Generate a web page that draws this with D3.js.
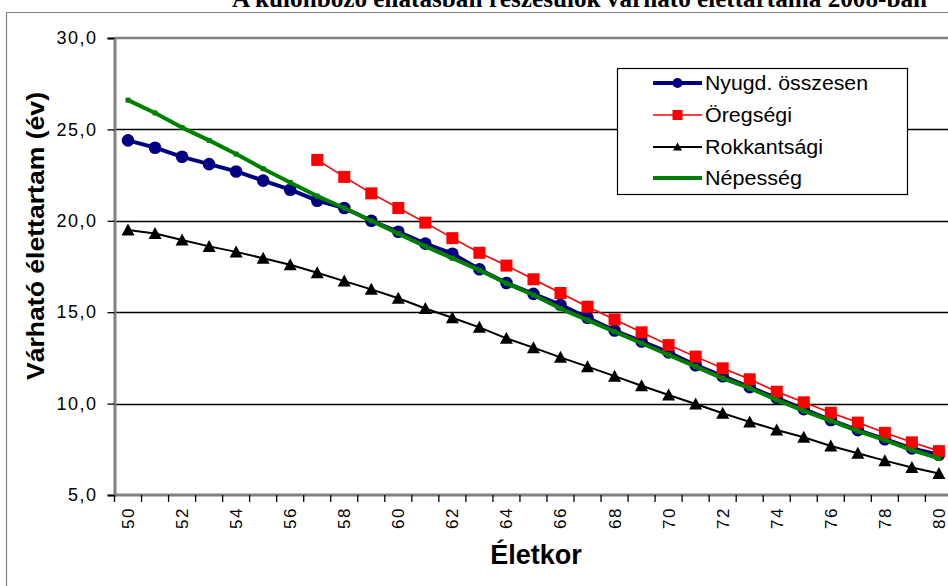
<!DOCTYPE html>
<html><head><meta charset="utf-8">
<script src="https://cdn.jsdelivr.net/npm/d3@7"></script>
<style>html,body{margin:0;padding:0;background:#fff;overflow:hidden}</style>
</head><body>
<svg id="c" width="948" height="586"></svg>
<script>
const ages = d3.range(50, 81);
const ageTickLabels = [50,52,54,56,58,60,62,64,66,68,70,72,74,76,78,80];
const yTicks = [5,10,15,20,25,30];
const seriesNames = ["Nyugd. összesen","Öregségi","Rokkantsági","Népesség"];
const nyugd = [24.4,24.0,23.5,23.1,22.7,22.2,21.7,21.1,20.7,20.0,19.4,18.75,18.2,17.35,16.6,16.0,15.4,14.7,14.0,13.4,12.8,12.1,11.5,10.9,10.3,9.7,9.1,8.55,8.05,7.55,7.2];
const oreg = [null,null,null,null,null,null,null,23.33,22.4,21.5,20.7,19.9,19.05,18.25,17.55,16.8,16.05,15.3,14.6,13.9,13.2,12.57,11.93,11.33,10.65,10.07,9.5,8.96,8.4,7.88,7.4];
const rokk = [19.5,19.3,18.95,18.6,18.3,17.95,17.6,17.16,16.7,16.25,15.76,15.2,14.7,14.17,13.57,13.06,12.53,12.02,11.5,10.98,10.47,9.98,9.47,9.0,8.56,8.16,7.68,7.28,6.88,6.5,6.18];
const nep = [26.6,25.9,25.1,24.4,23.65,22.85,22.1,21.35,20.7,20.0,19.3,18.6,17.95,17.3,16.58,15.94,15.2,14.57,13.93,13.3,12.66,12.02,11.38,10.84,10.2,9.6,9.05,8.5,8.0,7.46,7.0];

const svg = d3.select("#c");
const L = 114.5, T = 38, B = 495, band = 27.03;
const R = L + band * ages.length;
const x = d3.scaleBand().domain(ages).range([L, R]).paddingInner(0).paddingOuter(0);
const cx = a => x(a) + x.bandwidth() / 2;
const y = d3.scaleLinear().domain([5, 30]).range([B, T]);
const sans = "'Liberation Sans', Arial, sans-serif";

// outer chart border
svg.append("line").attr("x1", 6).attr("x2", 948).attr("y1", 12.5).attr("y2", 12.5).attr("stroke", "#808080").attr("stroke-width", 1.2);
svg.append("line").attr("x1", 6.5).attr("x2", 6.5).attr("y1", 12).attr("y2", 586).attr("stroke", "#808080").attr("stroke-width", 1.2);

// title (clipped at the top edge, as in the reference)
svg.append("text").attr("x", 232).attr("y", 6.5).attr("font-family", "'Liberation Serif', 'Times New Roman', serif")
  .attr("font-weight", "bold").attr("font-size", 25).attr("textLength", 695).attr("lengthAdjust", "spacingAndGlyphs")
  .text("A különböző ellátásban részesülők várható élettartama 2008-ban");

// gridlines
svg.append("g").selectAll("line").data(yTicks.filter(v => v > 5 && v < 30)).join("line")
  .attr("x1", L).attr("x2", 948).attr("y1", d => Math.round(y(d)) + 0.5).attr("y2", d => Math.round(y(d)) + 0.5)
  .attr("stroke", "#000").attr("stroke-width", 1.3);
// top border
svg.append("line").attr("x1", L).attr("x2", 948).attr("y1", T).attr("y2", T).attr("stroke", "#808080").attr("stroke-width", 2.5);

// y axis
const yAxis = d3.axisLeft(y).tickValues(yTicks).tickSize(7).tickPadding(10).tickFormat(d => d3.format(".1f")(d).replace(".", ","));
const gy = svg.append("g").attr("transform", `translate(${L},0)`).call(yAxis);
gy.select(".domain").attr("stroke", "#808080").attr("stroke-width", 3);
gy.selectAll(".tick line").attr("stroke", "#000").attr("stroke-width", 1.3);
gy.selectAll(".tick text").attr("font-family", sans).attr("font-size", 18).attr("fill", "#000").attr("letter-spacing", 1.5);

// x axis
const gx = svg.append("g").attr("transform", `translate(0,${B})`);
gx.append("line").attr("x1", L).attr("x2", 948).attr("y1", 0).attr("y2", 0).attr("stroke", "#808080").attr("stroke-width", 3);
gx.selectAll("line.tk").data(ages.concat([81])).join("line").attr("class", "tk")
  .attr("x1", d => d <= 80 ? x(d) : R).attr("x2", d => d <= 80 ? x(d) : R).attr("y1", 0).attr("y2", 7)
  .attr("stroke", "#000").attr("stroke-width", 1.3);
gx.selectAll("text").data(ageTickLabels).join("text")
  .attr("transform", d => `translate(${cx(d) + 6},12) rotate(-90)`)
  .attr("text-anchor", "end").attr("font-family", sans).attr("font-size", 17).attr("letter-spacing", 1.5)
  .text(d => d);

// axis titles
svg.append("text").attr("transform", "translate(44,236) rotate(-90)").attr("text-anchor", "middle")
  .attr("font-family", sans).attr("font-weight", "bold").attr("font-size", 24).attr("textLength", 288).attr("lengthAdjust", "spacingAndGlyphs")
  .text("Várható élettartam (év)");
svg.append("text").attr("x", 536).attr("y", 564).attr("text-anchor", "middle")
  .attr("font-family", sans).attr("font-weight", "bold").attr("font-size", 27)
  .text("Életkor");

// series
const series = [
  {name: seriesNames[0], vals: nyugd, color: "#000080", width: 4, marker: "circle", size: 6.3},
  {name: seriesNames[1], vals: oreg, color: "#FF0000", width: 1.6, marker: "square", size: 12},
  {name: seriesNames[2], vals: rokk, color: "#000000", width: 2, marker: "triangle", size: 13},
  {name: seriesNames[3], vals: nep, color: "#008000", width: 4, marker: "smallsquare", size: 5}
];
function drawMarker(g, type, px, py, size, color) {
  if (type === "circle") g.append("circle").attr("cx", px).attr("cy", py).attr("r", size).attr("fill", color);
  else if (type === "square" || type === "smallsquare") g.append("rect").attr("x", px - size / 2).attr("y", py - size / 2).attr("width", size).attr("height", size).attr("fill", color);
  else if (type === "triangle") g.append("path").attr("d", `M${px},${py - size / 2}L${px + size / 2},${py + size / 2 - 1}L${px - size / 2},${py + size / 2 - 1}Z`).attr("fill", color);
}
series.forEach(s => {
  const g = svg.append("g");
  const pts = ages.map((a, i) => [a, s.vals[i]]).filter(p => p[1] != null);
  g.append("path").attr("d", d3.line().x(p => cx(p[0])).y(p => y(p[1]))(pts))
    .attr("fill", "none").attr("stroke", s.color).attr("stroke-width", s.width).attr("stroke-linejoin", "round");
  pts.forEach(p => drawMarker(g, s.marker, cx(p[0]), y(p[1]), s.size, s.color));
});

// legend
const lg = svg.append("g");
lg.append("rect").attr("x", 617.5).attr("y", 68.5).attr("width", 290).attr("height", 126).attr("fill", "#fff").attr("stroke", "#000").attr("stroke-width", 1.2);
const legY = [83, 115, 147, 178];
const legMarkerSize = [5, 10, 9, 0];
const legTextLen = [163, 87, 118, 97];
series.forEach((s, i) => {
  const yy = legY[i];
  lg.append("line").attr("x1", 653).attr("x2", 702).attr("y1", yy).attr("y2", yy).attr("stroke", s.color).attr("stroke-width", s.width);
  if (legMarkerSize[i] > 0) drawMarker(lg, s.marker, 677.5, yy, legMarkerSize[i], s.color);
  lg.append("text").attr("x", 705).attr("y", yy).attr("dy", "0.36em").attr("font-family", sans).attr("font-size", 20)
    .attr("textLength", legTextLen[i]).attr("lengthAdjust", "spacingAndGlyphs").text(s.name);
});
</script>
</body></html>
